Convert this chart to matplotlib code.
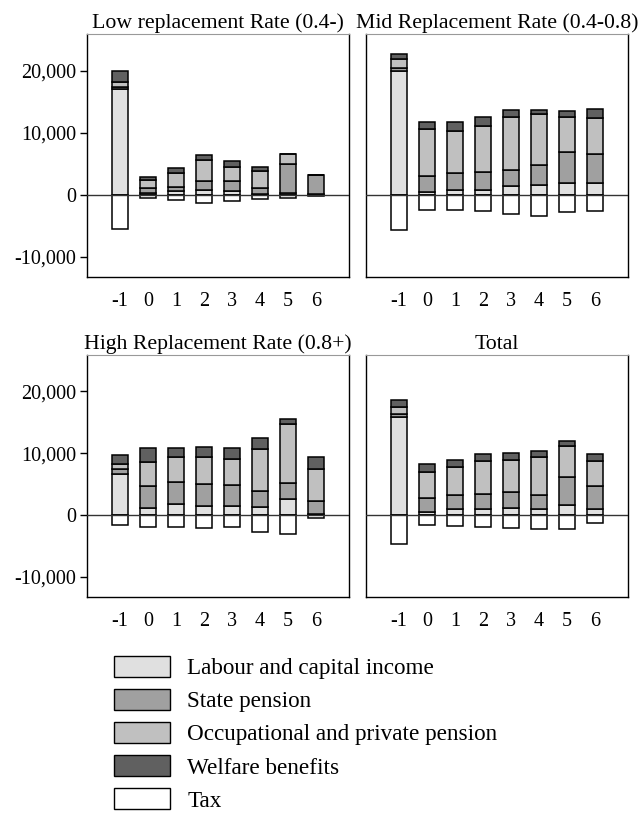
import matplotlib
matplotlib.use('Agg')
import matplotlib.pyplot as plt
import matplotlib.ticker as mticker
from matplotlib.patches import Patch

# years relative to retirement
years = [-1, 0, 1, 2, 3, 4, 5, 6]

# Low replacement rate (0.4-)
low_labour = [17100, 200, 500, 760, 600, 160, 330, 100]
low_state = [300, 900, 750, 1400, 1600, 970, 4570, 3000]
low_occ = [800, 1200, 2300, 3400, 2300, 2700, 1630, 0]
low_welfare = [1700, 600, 800, 800, 900, 650, 0, 0]
low_tax = [-5500, -500, -900, -1300, -1000, -640, -580, -220]

# Mid replacement rate (0.4-0.8)
mid_labour = [19900, 430, 810, 810, 1400, 1560, 1940, 1830]
mid_state = [500, 2640, 2640, 2860, 2600, 3140, 4910, 4750]
mid_occ = [1400, 7430, 6750, 7430, 8450, 8300, 5650, 5820]
mid_welfare = [900, 1200, 1500, 1460, 1150, 700, 900, 1450]
mid_tax = [-5660, -2430, -2530, -2700, -3200, -3450, -2800, -2640]

# High replacement rate (0.8+)
high_labour = [6700, 1180, 1720, 1450, 1500, 1290, 2580, 150]
high_state = [800, 3550, 3580, 3550, 3340, 2580, 2620, 2110]
high_occ = [700, 3870, 4100, 4400, 4160, 6780, 9600, 5110]
high_welfare = [1500, 2270, 1400, 1600, 1900, 1750, 800, 2030]
high_tax = [-1600, -2000, -1900, -2050, -1900, -2700, -3170, -540]

# Total
tot_labour = [15900, 540, 910, 910, 1180, 970, 1670, 970]
tot_state = [500, 2150, 2260, 2530, 2480, 2310, 4410, 3710]
tot_occ = [1000, 4310, 4530, 5260, 5220, 6080, 5160, 3980]
tot_welfare = [1270, 1230, 1230, 1150, 1180, 920, 660, 1190]
tot_tax = [-4680, -1600, -1800, -2000, -2100, -2260, -2260, -1350]

titles = ['Low replacement Rate (0.4-)', 'Mid Replacement Rate (0.4-0.8)',
          'High Replacement Rate (0.8+)', 'Total']
labels = ['Labour and capital income', 'State pension',
          'Occupational and private pension', 'Welfare benefits', 'Tax']
colors = ['#e0e0e0', '#a0a0a0', '#c0c0c0', '#606060', '#ffffff']

panels = [
    (low_labour, low_state, low_occ, low_welfare, low_tax),
    (mid_labour, mid_state, mid_occ, mid_welfare, mid_tax),
    (high_labour, high_state, high_occ, high_welfare, high_tax),
    (tot_labour, tot_state, tot_occ, tot_welfare, tot_tax),
]

plt.rcParams['font.family'] = ['Liberation Serif', 'DejaVu Serif']
plt.rcParams['font.size'] = 14.5

W, H = 642, 814
fig = plt.figure(figsize=(W / 100, H / 100), dpi=100)

# axes boxes in pixels: left, top, right, bottom
boxes = [(87, 34, 349, 277), (366, 34, 628, 277),
         (87, 355, 349, 597), (366, 355, 628, 597)]

for i, (box, data) in enumerate(zip(boxes, panels)):
    l, t, r, b = box
    ax = fig.add_axes([l / W, 1 - b / H, (r - l) / W, (b - t) / H])
    bottom = [0] * len(years)
    for vals, c in zip(data[:4], colors[:4]):
        ax.bar(years, vals, width=0.6, bottom=bottom, color=c,
               edgecolor='black', linewidth=1.1, zorder=3)
        bottom = [a + v for a, v in zip(bottom, vals)]
    ax.bar(years, data[4], width=0.6, color=colors[4],
           edgecolor='black', linewidth=1.1, zorder=3)
    ax.axhline(0, color='#333333', linewidth=1.0, zorder=4)
    ax.set_xlim(-2.18, 7.18)
    ax.set_ylim(-13300, 25900)
    ax.set_xticks(years)
    ax.set_xticklabels([str(y) for y in years])
    ax.tick_params(axis='x', length=0, pad=11)
    ax.set_yticks([-10000, 0, 10000, 20000])
    if i % 2 == 0:
        ax.yaxis.set_major_formatter(
            mticker.FuncFormatter(lambda v, p: '{:,.0f}'.format(v).replace('\u2212', '-')))
        ax.tick_params(axis='y', length=5, width=1, pad=3)
    else:
        ax.tick_params(axis='y', length=0, labelleft=False)
    for s in ['left', 'bottom', 'right']:
        ax.spines[s].set_color('black')
        ax.spines[s].set_linewidth(1.0)
    ax.spines['top'].set_color('#999999')
    ax.set_title(titles[i], fontsize=15.7, pad=4)

handles = [Patch(facecolor=c, edgecolor='black', linewidth=1.0) for c in colors]
fig.legend(handles, labels, loc='upper left', bbox_to_anchor=(114 / W, 1 - 656 / H),
           frameon=False, fontsize=16.7, handlelength=2.4, handleheight=1.0,
           handletextpad=0.75, labelspacing=0.42, borderaxespad=0, borderpad=0)

fig.savefig('out.png', dpi=100)
